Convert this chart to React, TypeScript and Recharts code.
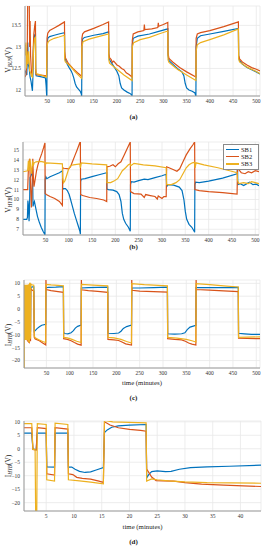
import { LineChart, Line, XAxis, YAxis, CartesianGrid, Legend } from "recharts"

type Pt = [number, number]

const BLUE = "#0072BD"
const ORANGE = "#D95319"
const YELLOW = "#EDB120"
const AX = "#9a9a9a"
const SERIF = "'Liberation Serif', 'DejaVu Serif', serif"

const seriesNames = ["SB1", "SB2", "SB3"]
const seriesColors = [BLUE, ORANGE, YELLOW]

// tick labels
const longTicks = [50, 100, 150, 200, 250, 300, 350, 400, 450, 500]
const shortTicks = [5, 10, 15, 20, 25, 30, 35, 40]
const busTicks = [12, 12.5, 13, 13.5]
const hybTicks = [7, 8, 9, 10, 11, 12, 13, 14, 15]
const currTicks = [-20, -15, -10, -5, 0, 5, 10]

// (a) bus voltage [time, V]
const aBlue: Pt[] = [[2,12.45],[4,12.4],[6,12.35],[7,12.9],[8,13.1],[9,12.6],[11,12.5],[13,12.3],[15,12.2],[17,12.05],[18,11.98],[19,12.3],[20,12.9],[21,13.2],[23,13.28],[24.5,13.3],[25,12.4],[26,12.33],[30,12.32],[40,12.3],[46,12.28],[47.5,12.1],[48.5,11.9],[49,11.8],[49.5,13.0],[51,13.2],[55,13.24],[65,13.27],[75,13.3],[87,13.33],[87.5,12.8],[89,12.7],[93,12.6],[97,12.52],[101,12.45],[104,12.38],[107,12.28],[110,12.15],[113,12.07],[117,12.02],[121,11.97],[123.5,11.9],[124,11.8],[124.5,13.0],[126,13.18],[130,13.22],[150,13.27],[170,13.31],[182,13.35],[182.5,12.8],[184,12.7],[190,12.6],[196,12.5],[200,12.43],[204,12.33],[207,12.15],[210,12.05],[215,12.0],[222,11.95],[228,11.92],[232,11.88],[232.5,11.8],[233,13.05],[235,13.2],[245,13.25],[270,13.3],[290,13.36],[309.5,13.42],[310,12.8],[312,12.68],[320,12.6],[330,12.5],[340,12.42],[344,12.33],[347,12.15],[350,12.05],[355,12.0],[362,11.97],[368,11.93],[370,11.85],[370.5,13.0],[373,13.2],[380,13.26],[400,13.3],[430,13.36],[461.5,13.43],[462,12.8],[464,12.68],[470,12.6],[480,12.52],[490,12.47],[500,12.42],[508,12.37]]
const aOrange: Pt[] = [[2,12.3],[4,12.35],[6,12.6],[7,13.1],[8,14.3],[11,14.3],[12,13.0],[13,13.6],[14,12.8],[16,12.4],[18,12.33],[19.5,12.9],[21,13.3],[23,13.5],[24.5,13.6],[25,12.5],[26,12.36],[30,12.35],[40,12.34],[48.5,12.33],[49.5,13.2],[51,13.32],[55,13.38],[65,13.44],[75,13.5],[87,13.58],[87.5,12.9],[89,12.75],[95,12.62],[105,12.5],[115,12.4],[124,12.32],[124.5,13.2],[126,13.3],[130,13.35],[150,13.43],[170,13.52],[182,13.58],[182.5,12.85],[184,12.75],[188,12.7],[190,12.64],[193,12.67],[200,12.58],[205,12.55],[210,12.5],[215,12.47],[220,12.4],[226,12.36],[232.5,12.3],[233,13.15],[235,13.3],[245,13.35],[258,13.38],[259,13.52],[260,13.4],[275,13.42],[288,13.45],[289,13.56],[290,13.48],[300,13.52],[309.5,13.57],[310,12.85],[312,12.73],[320,12.65],[335,12.52],[350,12.42],[370,12.3],[370.5,13.2],[373,13.3],[380,13.33],[400,13.38],[430,13.47],[461.5,13.58],[462,12.8],[464,12.72],[470,12.65],[480,12.58],[490,12.52],[500,12.48],[508,12.44]]
const aYellow: Pt[] = [[2,13.05],[3,12.8],[4,13.1],[5,12.5],[6,12.9],[8,12.6],[10,12.9],[12,12.45],[14,12.4],[16,12.32],[18,12.3],[19,12.6],[21,13.05],[23,13.2],[24.5,13.22],[25,12.5],[26,12.38],[35,12.35],[48.5,12.3],[49.5,13.0],[51,13.1],[55,13.15],[65,13.2],[75,13.23],[87,13.27],[87.5,12.7],[89,12.65],[100,12.55],[110,12.42],[124,12.27],[124.5,13.0],[127,13.12],[140,13.18],[160,13.24],[182,13.3],[182.5,12.7],[184,12.62],[200,12.48],[215,12.35],[232.5,12.22],[233,13.0],[236,13.1],[250,13.17],[270,13.22],[290,13.3],[309.5,13.37],[310,12.7],[312,12.64],[330,12.48],[350,12.35],[370,12.22],[370.5,12.9],[373,13.05],[380,13.1],[400,13.17],[430,13.28],[461.5,13.42],[462,12.72],[464,12.65],[480,12.53],[500,12.43],[508,12.38]]

// (b) hybrid voltage
const bBlue: Pt[] = [[2,8.0],[10,8.0],[11.5,8.2],[12.5,9.9],[13.5,9.5],[15,7.8],[16,9.0],[17,12.2],[20,12.5],[22.5,12.9],[23.5,9.3],[25,9.6],[26.5,9.8],[29,9.2],[33,8.3],[37,7.7],[41,7.2],[45,6.8],[48.5,6.5],[49,6.4],[49.5,12.0],[51,12.3],[53,12.1],[60,12.3],[70,12.5],[80,12.7],[86.5,12.9],[87,11.0],[89,11.1],[93,11.1],[97,10.9],[101,10.5],[104,10.0],[108,9.3],[112,8.6],[116,8.0],[120,7.4],[124,6.8],[125,6.5],[125.5,11.8],[127,12.05],[135,12.1],[150,12.3],[165,12.5],[181.5,12.7],[182,11.05],[185,11.0],[195,10.95],[203,10.8],[208,10.5],[212,9.8],[215,8.6],[218,8.0],[222,7.6],[228,7.2],[232,6.8],[232.5,11.5],[234,11.8],[240,11.75],[250,11.9],[258,12.0],[262,12.05],[270,12.0],[285,12.2],[300,12.4],[309,12.55],[310,11.3],[313,11.5],[325,11.45],[337,11.25],[343,10.9],[347,10.0],[350,8.8],[353,8.0],[358,7.5],[364,7.2],[369,6.8],[370,6.7],[370.5,11.5],[372,11.75],[380,11.7],[400,11.85],[430,12.15],[461,12.6],[462,13.4],[462.5,11.5],[468,11.6],[475,11.4],[482,11.6],[488,11.75],[495,11.5],[502,11.55],[508,11.4]]
const bOrange: Pt[] = [[2,11.0],[12,11.0],[13.5,13.0],[16,14.1],[17.5,12.2],[20,9.2],[21,10.5],[23,14.1],[24,12.5],[25.5,11.3],[28,12.0],[31,12.9],[34,13.5],[38,14.1],[42,14.6],[46,15.2],[49,15.7],[49.5,10.6],[52,10.5],[60,10.3],[70,10.1],[80,9.8],[86.5,9.4],[87,13.2],[90,13.15],[100,13.1],[104,13.3],[108,13.8],[113,14.4],[118,15.0],[122,15.5],[125,15.9],[125.5,10.5],[130,10.4],[145,10.2],[160,10.1],[175,9.95],[181.5,9.8],[182,13.3],[188,13.35],[195,13.5],[200,13.3],[206,13.6],[212,13.8],[218,14.4],[224,15.0],[229,15.5],[232,15.8],[232.5,10.8],[240,10.6],[255,10.55],[262,10.2],[265,10.5],[275,10.4],[285,10.3],[290,10.05],[292,10.35],[300,10.1],[304,10.3],[309,10.3],[310,13.3],[315,13.2],[325,13.0],[332,12.85],[338,13.1],[345,13.8],[352,14.5],[360,15.1],[366,15.5],[370,15.8],[370.5,11.0],[380,10.9],[400,10.8],[430,10.7],[461,10.55],[462,13.4],[465,13.0],[470,12.7],[478,12.6],[485,12.8],[492,12.7],[500,12.9],[508,12.8]]
const bYellow: Pt[] = [[2,12.8],[12,12.9],[13.5,13.9],[15,12.9],[17,14.1],[19,13.0],[20.5,12.6],[22.5,13.9],[24,13.4],[26,13.7],[30,13.8],[40,13.85],[49,13.75],[49.5,13.5],[52,13.7],[70,13.65],[86.5,13.6],[87,12.2],[89,11.7],[92,11.9],[96,12.5],[100,13.1],[104,13.4],[110,13.5],[124,13.6],[125,13.2],[127,13.7],[150,13.6],[181.5,13.5],[182,11.7],[190,11.7],[198,11.9],[205,12.1],[210,12.5],[215,12.9],[222,13.2],[228,13.5],[232,13.6],[233,13.4],[240,13.65],[260,13.5],[285,13.4],[309,13.2],[310,11.5],[320,11.5],[330,11.7],[338,12.0],[345,12.6],[352,13.2],[358,13.5],[365,13.7],[370,13.75],[371,13.2],[373,13.7],[390,13.5],[420,13.2],[445,12.9],[461,12.7],[462,11.9],[465,11.6],[475,11.7],[485,11.6],[492,11.8],[500,11.7],[508,11.6]]

// (c) hybrid current, full run
const cBlue: Pt[] = [[2,-8],[3,8.5],[3.6,-8.2],[4.2,8.4],[4.8,-8],[5.4,8.5],[6,-8.3],[7,8.4],[8,-8.3],[9,8.3],[10,-8.4],[12,-8.5],[14,-8.6],[15,-7.8],[16,-8.8],[16.5,8.4],[20,8.6],[23,8.6],[24,-8.7],[26,-8.4],[30,-7.6],[35,-6.9],[40,-6.3],[48.5,-5.9],[49,8.3],[55,8.4],[70,8.5],[86.5,8.7],[87,-9.2],[90,-9.5],[96,-9.6],[103,-9.2],[108,-8.4],[112,-7.4],[117,-6.7],[124.5,-6.2],[125,8.2],[140,8.3],[160,8.4],[181.5,8.5],[182,-9.4],[195,-9.5],[205,-9.3],[210,-8.6],[215,-7.5],[222,-6.8],[232.5,-6.2],[233,8.2],[250,8.2],[280,8.3],[309.5,8.5],[310,-9.6],[325,-9.7],[340,-9.6],[347,-9.2],[352,-8.0],[358,-7.0],[365,-6.6],[370.5,-6.3],[371,8.3],[400,8.3],[430,8.35],[461.5,8.4],[462,-9.4],[475,-9.6],[490,-9.8],[508,-9.8]]
const cOrange: Pt[] = [[2,-11.5],[3,9],[3.6,-12],[4.2,8.8],[4.8,-12],[5.4,9],[6,-11.8],[6.6,8.7],[7.2,-12],[8,8.5],[8.8,-12.2],[9.6,8.5],[10.4,-12.5],[12,-12.8],[13.5,-13],[14,8.5],[15,8.2],[16,-12.5],[16.5,8],[18,7.6],[20,7.3],[23,7.0],[24,-11.0],[26,-11.6],[35,-12.3],[42,-13.2],[48.5,-13.9],[49,11.8],[49.5,7.6],[60,7.2],[75,6.8],[86.5,6.5],[87,-11.5],[95,-11.8],[103,-12.3],[110,-13.0],[117,-13.6],[124.5,-14.0],[125,11.8],[125.5,7.5],[140,7.2],[160,6.9],[181.5,6.5],[182,-11.8],[195,-12.0],[205,-12.2],[212,-12.8],[220,-13.5],[232.5,-14.0],[233,11.8],[233.5,7.3],[250,7.0],[280,6.8],[309.5,6.6],[310,-11.5],[325,-11.8],[340,-12.0],[348,-12.5],[355,-13.2],[362,-13.6],[370.5,-14.0],[371,11.8],[371.5,7.6],[400,7.4],[430,7.1],[461.5,6.8],[462,-11.3],[480,-11.4],[508,-11.5]]
const cYellow: Pt[] = [[2,9.5],[2.5,-24],[3,9.5],[3.6,-12],[4.2,9.5],[4.8,-11.5],[5.4,9.4],[6,-12],[6.6,9.5],[7.2,-11.8],[7.8,9.3],[8.4,-12],[9,9.5],[9.6,-11.5],[10.2,9.4],[10.8,-12.2],[11.4,9.6],[12,-12.5],[13,-12.8],[13.5,-13],[14,9.8],[15,9.6],[16,-11.5],[16.5,9.8],[18,9.5],[20,9.4],[23,9.3],[24,-10.5],[26,-11.2],[35,-12.0],[42,-12.6],[48.5,-13.0],[49,9.6],[60,9.4],[75,9.2],[86.5,9.0],[87,-11.0],[95,-11.2],[105,-11.8],[115,-12.5],[124.5,-13.0],[125,9.6],[150,9.3],[181.5,9.0],[182,-11.0],[195,-11.2],[210,-11.8],[222,-12.6],[232.5,-13.2],[233,9.9],[260,9.5],[290,9.2],[309.5,9.0],[310,-11.0],[330,-11.3],[350,-11.8],[362,-12.3],[370.5,-12.8],[371,9.9],[400,9.5],[430,9.0],[461.5,8.6],[462,-11.0],[480,-10.9],[508,-10.8]]

// (d) hybrid current, first 44 minutes
const dBlue: Pt[] = [[1,5.8],[2.4,5.8],[2.6,0],[3.0,-0.3],[3.2,-0.3],[3.4,5.8],[5.0,5.8],[5.1,-6.7],[6.5,-6.8],[6.6,5.8],[8.9,5.8],[9.0,-6.8],[9.6,-6.8],[10.2,-7.6],[11.0,-8.4],[12.0,-8.8],[13.0,-8.6],[14.0,-7.9],[15.3,-7.0],[15.5,6.0],[16.0,7.0],[16.8,8.0],[18,8.5],[20,8.8],[23.0,9.0],[23.1,-10.8],[23.5,-9.5],[24.0,-8.5],[25.0,-8.2],[26.5,-8.5],[27.5,-8.4],[29,-7.6],[31,-7.0],[34,-6.7],[38,-6.5],[43.7,-6.1]]
const dOrange: Pt[] = [[1,7.8],[2.4,7.8],[2.6,-0.3],[3.2,-0.5],[3.4,7.8],[5.0,7.5],[5.1,-9.3],[6.5,-9.8],[6.6,7.8],[8.9,7.3],[9.0,-9.3],[9.8,-9.6],[10.5,-10.6],[11.5,-11.0],[13,-11.3],[14.5,-12.0],[15.3,-12.5],[15.5,10.0],[16.5,8.8],[18,7.8],[20,7.2],[22,6.8],[23.0,6.5],[23.1,-7.5],[24,-10.5],[24.8,-11.8],[26,-11.9],[28,-12.0],[30,-12.6],[33,-13.1],[37,-13.5],[43.7,-14.0]]
const dYellow: Pt[] = [[1,9.3],[2.4,9.3],[2.6,-0.2],[3.0,-0.2],[3.1,-24],[3.3,-24],[3.4,9.3],[5.0,9.0],[5.1,-11.5],[6.5,-12.0],[6.6,9.5],[8.9,9.0],[9.0,-11.5],[11,-11.9],[13,-12.4],[15.3,-13.0],[15.5,10.5],[17,10.0],[20,9.8],[23.0,9.6],[23.1,-12.0],[24,-11.2],[25,-11.5],[27,-11.9],[30,-12.3],[34,-12.6],[43.7,-12.8]]

const pts = (s: Pt[]) => s.map(([t, v]) => ({ t, v }))
const fmt = (v: number) => String(v).replace("-", "\u2212")
const tickStyle = { fontSize: 5.5, fontFamily: SERIF, fill: "#333" }

function YLabel({ main, sub, labelCy }: { main: string; sub: string; labelCy: number }) {
  return (
    <text transform={`translate(10.5, ${labelCy}) rotate(-90)`} textAnchor="middle" fontFamily={SERIF} fontSize={7.5} fill="#222">
      {main}
      <tspan fontSize={5.2} fontStyle="italic" dy={1.6}>{sub}</tspan>
      <tspan dy={-1.6}>(V)</tspan>
    </text>
  )
}

function TimeLabel({ labelCx, labelBase }: { labelCx: number; labelBase: number }) {
  return (
    <text transform={`translate(${labelCx}, ${labelBase})`} textAnchor="middle" fontFamily={SERIF} fontSize={6.8} fill="#222">
      time (minutes)
    </text>
  )
}

function SBLegend({ payload }: any) {
  return (
    <div style={{ border: "1px solid #8a8a8a", background: "#fff", padding: "1px 2px", fontFamily: SERIF, fontSize: 6.5, lineHeight: "7.2px" }}>
      {(payload || []).map((e: any) => (
        <div key={e.value} style={{ display: "flex", alignItems: "center" }}>
          <span style={{ display: "inline-block", width: 13, height: 1.3, background: e.color, marginRight: 2 }} />
          <span style={{ color: "#222" }}>{e.value}</span>
        </div>
      ))}
    </div>
  )
}

type PanelProps = {
  top: number
  height: number
  yWidth: number
  right: number
  xDomain: [number, number]
  yDomain: [number, number]
  xTicks: number[]
  yTicks: number[]
  series: Pt[][]
  main: string
  sub: string
  labelY: number
  timeLabelY?: number
  legend?: boolean
}

function Panel(p: PanelProps) {
  const plotCx = (p.yWidth + 267 - p.right) / 2
  return (
    <div style={{ position: "absolute", left: 0, top: p.top }}>
      <LineChart width={267} height={p.height} margin={{ top: 6, right: p.right, bottom: 0, left: 0 }}>
        <CartesianGrid stroke="#e8e8e8" strokeWidth={0.8} />
        <XAxis
          dataKey="t"
          type="number"
          domain={p.xDomain}
          ticks={p.xTicks}
          interval={0}
          allowDataOverflow
          height={p.timeLabelY ? 22 : 12}
          tickSize={0}
          tickMargin={3.5}
          tickLine={false}
          tick={tickStyle}
          axisLine={{ stroke: AX }}
          label={p.timeLabelY ? <TimeLabel labelCx={plotCx} labelBase={p.timeLabelY} /> : undefined}
        />
        <XAxis xAxisId="top" orientation="top" type="number" domain={p.xDomain} height={0} tick={false} tickLine={false} axisLine={{ stroke: AX }} />
        <YAxis
          type="number"
          domain={p.yDomain}
          ticks={p.yTicks}
          interval={0}
          allowDataOverflow
          width={p.yWidth}
          tickSize={0}
          tickMargin={4}
          tickLine={false}
          tick={tickStyle}
          tickFormatter={fmt}
          axisLine={{ stroke: AX }}
          label={<YLabel main={p.main} sub={p.sub} labelCy={p.labelY} />}
        />
        <YAxis yAxisId="right" orientation="right" type="number" domain={p.yDomain} width={0} tick={false} tickLine={false} axisLine={{ stroke: AX }} />
        {p.series.map((s, i) => (
          <Line
            key={seriesNames[i]}
            data={pts(s)}
            dataKey="v"
            name={seriesNames[i]}
            stroke={seriesColors[i]}
            strokeWidth={1.2}
            dot={false}
            type="linear"
            isAnimationActive={false}
          />
        ))}
        {p.legend && (
          <Legend
            layout="vertical"
            align="center"
            verticalAlign="middle"
            wrapperStyle={{ top: 8, left: 223, width: 36 }}
            content={(props: any) => <SBLegend payload={props.payload} />}
          />
        )}
      </LineChart>
    </div>
  )
}

function Caption({ text, top }: { text: string; top: number }) {
  return (
    <div style={{ position: "absolute", left: 0, top, width: 267, textAlign: "center", fontFamily: SERIF, fontSize: 7, fontWeight: "bold", color: "#222", lineHeight: "8px" }}>
      {text}
    </div>
  )
}

export default function App() {
  return (
    <div style={{ position: "absolute", left: 0, top: 0, width: 267, height: 550, background: "#fff" }}>
      <Panel top={0} height={108} yWidth={25} right={7} xDomain={[2, 508]} yDomain={[11.86, 13.95]} xTicks={longTicks} yTicks={busTicks} series={[aBlue, aOrange, aYellow]} main="V" sub="BUS" labelY={60} />
      <Caption text="(a)" top={113} />
      <Panel top={136} height={111} yWidth={23} right={8} xDomain={[2, 508]} yDomain={[6.42, 15.8]} xTicks={longTicks} yTicks={hybTicks} series={[bBlue, bOrange, bYellow]} main="V" sub="HYB" labelY={64} legend />
      <Caption text="(b)" top={243} />
      <Panel top={274} height={116} yWidth={24} right={7} xDomain={[2, 508]} yDomain={[-22.9, 11.3]} xTicks={longTicks} yTicks={currTicks} series={[cBlue, cOrange, cYellow]} main="I" sub="HYB" labelY={61} timeLabelY={110.5} />
      <Caption text="(c)" top={394} />
      <Panel top={415} height={118} yWidth={24} right={6} xDomain={[1, 43.7]} yDomain={[-23.1, 10.3]} xTicks={shortTicks} yTicks={currTicks} series={[dBlue, dOrange, dYellow]} main="I" sub="HYB" labelY={51} timeLabelY={113.5} />
      <Caption text="(d)" top={538} />
    </div>
  )
}
